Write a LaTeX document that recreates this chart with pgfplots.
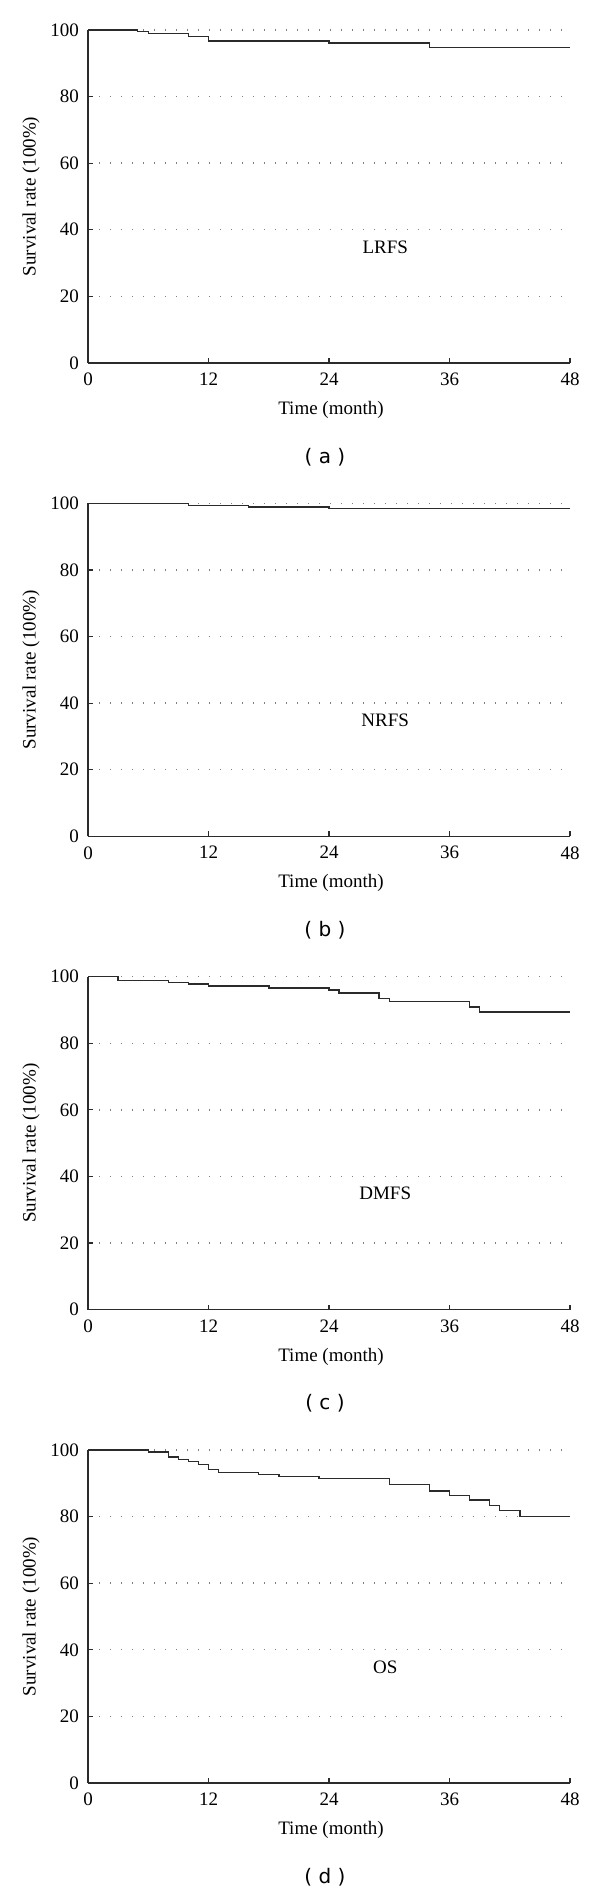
\documentclass[border=0pt]{standalone}
\usepackage{fontspec}
\setmainfont{Liberation Serif}
\newfontfamily\capfont{DejaVu Sans}
\usepackage{pgfplots}
\pgfplotsset{compat=1.18}
\definecolor{ink}{HTML}{2B2B2B}
\pgfplotsset{
  km/.style={
    scale only axis, width=241pt, height=166.5pt,
    anchor=south west,
    xmin=0, xmax=48, ymin=0, ymax=100,
    xtick={0,12,24,36,48}, ytick={0,20,40,60,80,100},
    axis lines=left, axis line style={-, ink, line width=0.7pt},
    tick pos=left, tick align=inside, major tick length=2.5pt,
    tick style={ink, line width=0.6pt},
    ymajorgrids, grid style={gray, line width=0.7pt, dash pattern=on 0.6pt off 4.9pt},
    clip=false,
    /pgf/number format/assume math mode=true,
    tick label style={font=\fontsize{9.5}{11}\selectfont, text=black},
    xticklabel style={yshift=-1.5pt},
    yticklabel style={xshift=-1pt},
    label style={font=\fontsize{9.5}{11}\selectfont},
    xlabel={Time (month)}, ylabel={Survival rate (100\%)},
    xlabel style={at={(axis description cs:0.5,0)}, anchor=center, yshift=-23.5pt, xshift=1pt},
    ylabel style={at={(axis description cs:-0.118,0.5)}, anchor=center},
  },
  kmline/.style={const plot, ink, line width=0.75pt, no markers},
}
\begin{document}
\begin{tikzpicture}
\path[use as bounding box] (0,0) rectangle (300pt,946.5pt);

% (a)
\begin{axis}[km, at={(44pt,765pt)}]
\addplot[kmline] coordinates {(0,100)(4.95,99.5)(6,99)(10,98)(12,96.7)(24,96.1)(34,94.8)(48,94.8)};
\node[font=\fontsize{9.5}{11}\selectfont] at (axis cs:29.6,34.8) {LRFS};
\node[font=\capfont\fontsize{10}{12}\selectfont] at (axis description cs:0.5,0) [yshift=-47pt, xshift=-2pt] {( a )};
\end{axis}

% (b)
\begin{axis}[km, at={(44pt,528.33pt)}]
\addplot[kmline] coordinates {(0,100)(10,99.4)(16,98.9)(24,98.4)(48,98.4)};
\node[font=\fontsize{9.5}{11}\selectfont] at (axis cs:29.6,34.8) {NRFS};
\node[font=\capfont\fontsize{10}{12}\selectfont] at (axis description cs:0.5,0) [yshift=-47pt, xshift=-2pt] {( b )};
\end{axis}

% (c)
\begin{axis}[km, at={(44pt,291.67pt)}]
\addplot[kmline] coordinates {(0,100)(3,98.9)(8,98.3)(10,97.8)(12,97.2)(18,96.6)(24,96)(25,95.1)(29,93.4)(30,92.5)(38,90.9)(39,89.4)(48,89.4)};
\node[font=\fontsize{9.5}{11}\selectfont] at (axis cs:29.6,34.8) {DMFS};
\node[font=\capfont\fontsize{10}{12}\selectfont] at (axis description cs:0.5,0) [yshift=-47pt, xshift=-2pt] {( c )};
\end{axis}

% (d)
\begin{axis}[km, at={(44pt,55pt)}]
\addplot[kmline] coordinates {(0,100)(6,99.4)(8,97.9)(9,97.2)(10,96.6)(11,95.7)(12,94.2)(13,93.3)(17,92.6)(19,92.0)(23,91.4)(30,89.7)(34,87.7)(36,86.3)(38,85.0)(40,83.4)(41,81.8)(43,80.0)(48,80.0)};
\node[font=\fontsize{9.5}{11}\selectfont] at (axis cs:29.6,34.8) {OS};
\node[font=\capfont\fontsize{10}{12}\selectfont] at (axis description cs:0.5,0) [yshift=-47pt, xshift=-2pt] {( d )};
\end{axis}
\end{tikzpicture}
\end{document}
